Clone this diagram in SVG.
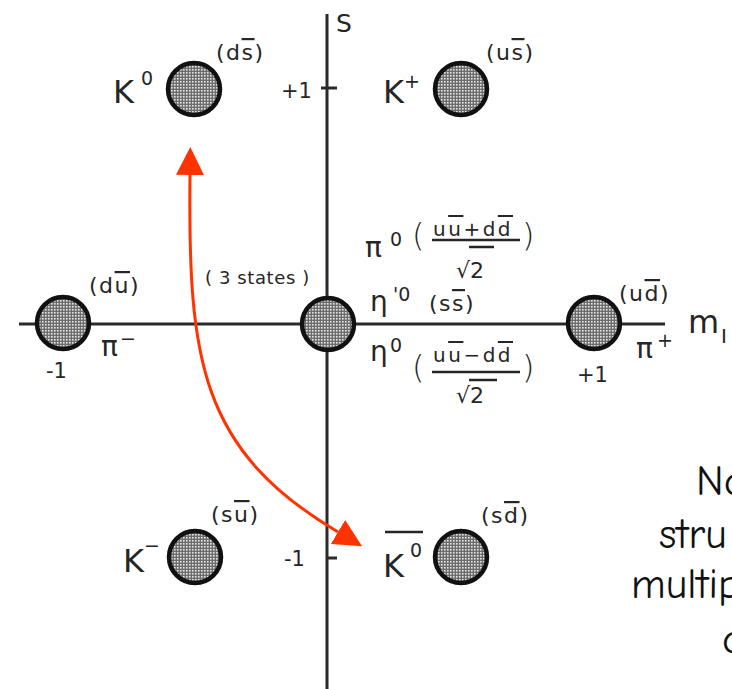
<svg xmlns="http://www.w3.org/2000/svg" width="732" height="689" viewBox="0 0 732 689">
<style>
.t{font-family:"DejaVu Sans","Liberation Sans",sans-serif;fill:#262626}
.big{font-size:32px}
.gr{font-size:28px}
.sup{font-size:19px}
.q{font-size:22px}
.num{font-size:20px}
.par{font-size:32px;font-weight:200}
.ax{stroke:#2a2a2a;stroke-width:3;fill:none}
.m{stroke:#111;stroke-width:4.5;fill:url(#dots)}
.fl{stroke:#262626;stroke-width:2.5}
.note{font-family:"Comic Neue","Liberation Sans",sans-serif;font-size:42px;fill:#111}
.ob{text-decoration:overline}
</style>
<defs>
<pattern id="dots" width="3" height="3" patternUnits="userSpaceOnUse">
<rect width="3" height="3" fill="#6c6c6c"/>
<rect width="1.6" height="1.6" fill="#e6e6e6"/>
</pattern>
<marker id="ah" markerUnits="userSpaceOnUse" markerWidth="28" markerHeight="28" refX="0" refY="13" orient="auto-start-reverse" viewBox="0 0 26 26">
<path d="M0,0 L26,13 L0,26 z" fill="#ff3300"/>
</marker>
</defs>
<rect width="732" height="689" fill="#fff"/>

<g id="axes">
<line class="ax" x1="327" y1="14" x2="327" y2="689" stroke="#404040"/>
<line class="ax" x1="19" y1="324" x2="665" y2="324"/>
<line class="ax" x1="321" y1="88" x2="337" y2="88"/>
<line class="ax" x1="326" y1="558" x2="337" y2="558"/>
<text class="t" x="336" y="32" font-size="25">S</text>
<text class="t" x="281" y="98" font-size="21">+1</text>
<text class="t" x="284" y="566" font-size="21">-1</text>
<text class="t" x="46" y="378" font-size="21">-1</text>
<text class="t" x="577" y="382" font-size="21">+1</text>
<text class="t" x="688" y="333" font-size="32">m</text>
<text class="t" x="721" y="343" font-size="20">I</text>
</g>

<g id="K0">
<circle class="m" cx="194" cy="89" r="26"/>
<text class="t big" x="113" y="103">K</text>
<text class="t sup" x="141" y="85">0</text>
<text class="t q" x="216" y="60" letter-spacing="1.5">(d<tspan class="ob">s</tspan>)</text>
</g>

<g id="Kplus">
<circle class="m" cx="461" cy="89" r="26"/>
<text class="t big" x="383" y="103">K</text>
<text class="t sup" x="404" y="88">+</text>
<text class="t q" x="486" y="60" letter-spacing="1.5">(u<tspan class="ob">s</tspan>)</text>
</g>

<g id="piminus">
<circle class="m" cx="63" cy="323" r="26"/>
<text class="t q" x="89" y="293" letter-spacing="1.5">(d<tspan class="ob">u</tspan>)</text>
<text class="t gr" x="101" y="356">π</text>
<text class="t sup" x="120" y="345">−</text>
</g>

<g id="center">
<circle class="m" cx="328" cy="324" r="26"/>
<text class="t" x="205" y="284" font-size="18" letter-spacing="0.6">( 3 states )</text>
<text class="t gr" x="365" y="257">π</text>
<text class="t sup" x="390" y="246">0</text>
<text class="t par" x="412" y="246">(</text>
<text class="t num" x="433" y="236" letter-spacing="2.5">u<tspan class="ob">u</tspan>+d<tspan class="ob">d</tspan></text>
<line class="fl" x1="432" y1="240" x2="520" y2="240"/>
<text class="t q" x="456" y="278">√2</text>
<line class="fl" x1="469" y1="247" x2="494" y2="247" stroke-width="2"/>
<text class="t par" x="522" y="246">)</text>

<text class="t gr" x="370" y="311">η</text>
<text class="t sup" x="393" y="301">'0</text>
<text class="t q" x="429" y="311" letter-spacing="1.5">(s<tspan class="ob">s</tspan>)</text>

<text class="t gr" x="370" y="361">η</text>
<text class="t sup" x="390" y="352">0</text>
<text class="t par" x="412" y="378">(</text>
<text class="t num" x="433" y="362" letter-spacing="2.5">u<tspan class="ob">u</tspan>−d<tspan class="ob">d</tspan></text>
<line class="fl" x1="432" y1="372" x2="520" y2="372"/>
<text class="t q" x="456" y="403">√2</text>
<line class="fl" x1="469" y1="380" x2="497" y2="380" stroke-width="2"/>
<text class="t par" x="522" y="378">)</text>
</g>

<g id="piplus">
<circle class="m" cx="594" cy="323" r="26"/>
<text class="t q" x="619" y="301" letter-spacing="1.5">(u<tspan class="ob">d</tspan>)</text>
<text class="t gr" x="636" y="358">π</text>
<text class="t sup" x="657" y="347">+</text>
</g>

<g id="Kminus">
<circle class="m" cx="195" cy="557" r="26"/>
<text class="t big" x="123" y="572">K</text>
<text class="t sup" x="144" y="552">−</text>
<text class="t q" x="211" y="522" letter-spacing="1.5">(s<tspan class="ob">u</tspan>)</text>
</g>

<g id="K0bar">
<circle class="m" cx="461" cy="557" r="26"/>
<text class="t big" x="383" y="577">K</text>
<line class="fl" x1="385" y1="532" x2="423" y2="532"/>
<text class="t sup" x="410" y="557">0</text>
<text class="t q" x="481" y="523" letter-spacing="1.5">(s<tspan class="ob">d</tspan>)</text>
</g>

<g id="connectors">
<path d="M190,175 C188,360 200,450 338,532" fill="none" stroke="#ff3300" stroke-width="3" marker-start="url(#ah)" marker-end="url(#ah)"/>
</g>

<g id="note">
<text class="note" x="696" y="495">No</text>
<text class="note" x="659" y="548">stru</text>
<text class="note" x="631" y="598">multip</text>
<text class="note" x="722" y="653">o</text>
</g>
</svg>
